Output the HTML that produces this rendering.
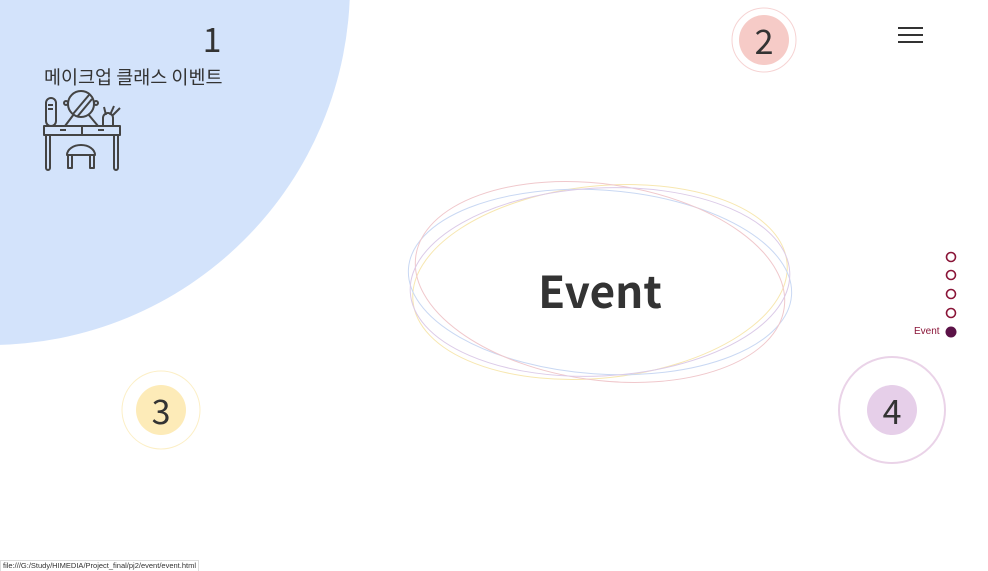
<!DOCTYPE html>
<html><head><meta charset="utf-8">
<style>
html,body{margin:0;padding:0;width:988px;height:570px;overflow:hidden;background:#fff;font-family:"Liberation Sans","Noto Sans CJK KR",sans-serif;}
.abs{position:absolute;}
.num{font-family:"Noto Sans CJK KR","Liberation Sans",sans-serif;font-weight:400;font-size:34px;color:#333;line-height:40px;text-align:center;width:40px;}
</style></head>
<body>
<svg class="abs" style="left:0;top:0" width="988" height="570">
  <circle cx="-10" cy="-15" r="360" fill="#d3e3fb"/>
  <g fill="none" stroke-width="1">
    <ellipse cx="600" cy="282" rx="188" ry="96" stroke="#f7e7b0" transform="rotate(-6 600 282)"/>
    <ellipse cx="600" cy="282" rx="192" ry="92" stroke="#c9d8f3" transform="rotate(4 600 282)"/>
    <ellipse cx="600" cy="282" rx="186" ry="98" stroke="#f0c8cc" transform="rotate(8 600 282)"/>
    <ellipse cx="600" cy="282" rx="190" ry="94" stroke="#dccbe8" transform="rotate(-3 600 282)"/>
  </g>
  <circle cx="764" cy="40" r="32" fill="none" stroke="#f6d3d3"/>
  <circle cx="764" cy="40" r="25" fill="#f6cbc7"/>
  <circle cx="161" cy="410" r="39" fill="none" stroke="#fcefc6"/>
  <circle cx="161" cy="410" r="25" fill="#fdebb8"/>
  <circle cx="892" cy="410" r="53" fill="none" stroke="#ead3e8" stroke-width="2"/>
  <circle cx="892" cy="410" r="25" fill="#e6cfe9"/>
  <g stroke="#333" stroke-width="2">
    <line x1="898" y1="28" x2="923" y2="28"/><line x1="898" y1="35" x2="923" y2="35"/><line x1="898" y1="42" x2="923" y2="42"/>
  </g>
  <g fill="none" stroke="#8a1538" stroke-width="1.6">
    <circle cx="951" cy="257" r="4.5"/>
    <circle cx="951" cy="275" r="4.5"/>
    <circle cx="951" cy="294" r="4.5"/>
    <circle cx="951" cy="313" r="4.5"/>
  </g>
  <circle cx="951" cy="332" r="5.5" fill="#5b1247"/>
  <g fill="none" stroke="#444" stroke-width="2" stroke-linejoin="round">
    <rect x="46" y="98" width="10" height="28" rx="5"/>
    <line x1="48" y1="105" x2="53" y2="105"/><line x1="48" y1="109" x2="53" y2="109"/>
    <circle cx="81" cy="104" r="13"/>
    <line x1="73" y1="114" x2="89" y2="95"/><line x1="77" y1="117" x2="92" y2="99"/>
    <circle cx="66" cy="103" r="2"/><circle cx="96" cy="103" r="2"/>
    <line x1="74" y1="114" x2="65" y2="126"/><line x1="88" y1="114" x2="98" y2="126"/>
    <path d="M103 126 v-8 a5 5 0 0 1 10 0 v8"/>
    <line x1="106" y1="115" x2="104" y2="107"/><line x1="110" y1="115" x2="114" y2="106"/><line x1="112" y1="116" x2="120" y2="108"/>
    <rect x="44" y="126" width="76" height="9"/>
    <line x1="82" y1="126" x2="82" y2="135"/>
    <line x1="60" y1="130" x2="66" y2="130"/><line x1="98" y1="130" x2="104" y2="130"/>
    <path d="M46 135 v33 a2 2 0 0 0 4 0 v-33"/><path d="M114 135 v33 a2 2 0 0 0 4 0 v-33"/>
    <path d="M67 155 a14 10 0 0 1 28 0 Z"/>
    <path d="M68 155 v13 h4 v-13"/><path d="M90 155 v13 h4 v-13"/>
  </g>
</svg>
<div class="abs num" style="left:192px;top:18px;">1</div>
<div class="abs" style="left:44px;top:64px;font-size:18.5px;color:#333;font-family:'Noto Sans CJK KR',sans-serif;">메이크업 클래스 이벤트</div>
<div class="abs num" style="left:744px;top:20px;">2</div>
<div class="abs num" style="left:141px;top:390px;">3</div>
<div class="abs num" style="left:872px;top:390px;">4</div>
<div class="abs" style="left:500px;top:259px;width:200px;text-align:center;font-size:44px;font-weight:bold;color:#333;font-family:'Noto Sans CJK KR','Liberation Sans',sans-serif;line-height:60px;">Event</div>
<div class="abs" style="left:914px;top:326px;font-size:10px;color:#8a1538;">Event</div>
<div class="abs" style="left:0;top:560px;height:10px;padding:0 2px;font-size:7.5px;line-height:10px;color:#333;background:#fff;border:1px solid #ddd;border-bottom:none;">file:///G:/Study/HIMEDIA/Project_final/pj2/event/event.html</div>
</body></html>
